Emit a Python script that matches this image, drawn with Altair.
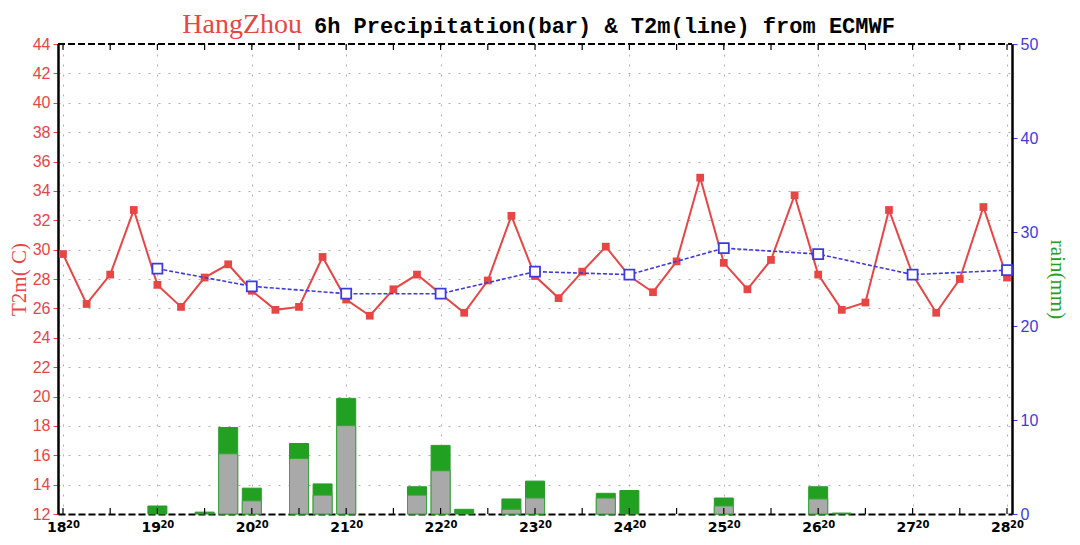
import altair as alt
import pandas as pd

# ---- data ----
hours6 = list(range(0, 241, 6))          # hours since 18th 20:00
t2m = [29.7, 26.3, 28.3, 32.7, 27.6, 26.1, 28.1, 29.0, 27.2, 25.9,
       26.1, 29.5, 26.6, 25.5, 27.3, 28.3, 27.0, 25.7, 27.9, 32.3,
       28.2, 26.7, 28.5, 30.2, 28.2, 27.1, 29.2, 34.9, 29.1, 27.3,
       29.3, 33.7, 28.3, 25.9, 26.4, 32.7, 28.3, 25.7, 28.0, 32.9,
       28.1]
day_hours = list(range(24, 241, 24))
t2m_daily = [28.7, 27.5, 27.0, 27.0, 28.5, 28.3, 30.1, 29.7, 28.3, 28.6]

rain_hours = [24, 36, 42, 48, 60, 66, 72, 90, 96, 102, 114, 120, 138, 144, 168, 192, 198]
rain_total = [0.85, 0.2, 9.2, 2.75, 7.5, 3.2, 12.3, 2.9, 7.3, 0.5, 1.6, 3.5, 2.2, 2.5, 1.7, 2.9, 0.1]
rain_grey = [0.0, 0.0, 6.4, 1.4, 5.9, 2.0, 9.4, 2.0, 4.6, 0.0, 0.5, 1.7, 1.7, 0.0, 0.85, 1.6, 0.0]

tick_hours = list(range(0, 241, 12))
day_ticks = list(range(0, 241, 24))
hour_sup = "20"                           # the hour shown as superscript after each day
temp_ticks = list(range(12, 45, 2))
rain_ticks = [0, 10, 20, 30, 40, 50]

title_city = "HangZhou"
title_rest = "6h Precipitation(bar) & T2m(line) from ECMWF"

# ---- styles ----
RED = "#e84545"
BLUE = "#3f3ae0"
GREEN = "#22a022"
GREY = "#a9a9a9"
GRIDC = "#b0b0b0"

temp_df = pd.DataFrame({"h": hours6, "t": t2m})
daily_df = pd.DataFrame({"h": day_hours, "t": t2m_daily})
rain_df = pd.DataFrame({"h": rain_hours, "total": rain_total, "grey": rain_grey})
ticks_df = pd.DataFrame({"h": tick_hours})
days_df = pd.DataFrame({"h": day_ticks, "s": [hour_sup] * len(day_ticks)})
one_df = pd.DataFrame({"a": [0]})

x_axis = alt.Axis(values=day_ticks,
                  labelExpr="toString(18 + datum.value/24)",
                  title=None, grid=True, gridDash=[2, 8], gridColor=GRIDC,
                  ticks=False, domainColor="black", domainDash=[7, 3],
                  domainWidth=2, labelFont="DejaVu Sans", labelFontWeight="bold",
                  labelFontSize=14, labelColor="black", labelPadding=6,
                  labelAlign="right", labelOffset=3, labelFlush=False)
x_enc = alt.X("h:Q", scale=alt.Scale(domain=[0, 240], nice=False, zero=False), axis=x_axis)

temp_axis = alt.Axis(orient="left", values=temp_ticks, title="T2m(  C)",
                     titleColor=RED, titleFont="Liberation Serif", titleFontSize=21,
                     titleFontWeight="normal", titlePadding=3,
                     labelColor=RED, labelFont="Liberation Sans", labelFontSize=16,
                     labelPadding=3, tickColor=RED, tickSize=5,
                     domainColor="black", domainWidth=2.5,
                     grid=True, gridDash=[2, 8], gridColor=GRIDC)
temp_scale = alt.Scale(domain=[12, 44], nice=False, zero=False)

rain_axis = alt.Axis(orient="right", values=rain_ticks, title="rain(mm)",
                     titleColor=GREEN, titleFont="Liberation Serif", titleFontSize=21,
                     titleFontWeight="normal", titlePadding=9,
                     labelColor=BLUE, labelFont="Liberation Sans", labelFontSize=16,
                     labelPadding=3, tickColor=BLUE, tickSize=5,
                     domainColor="black", domainWidth=2.5, grid=False)
rain_scale = alt.Scale(domain=[0, 50], nice=False, zero=True)

green_bars = alt.Chart(rain_df).mark_bar(size=19, color=GREEN, stroke="#2e9a2e", strokeWidth=1).encode(
    x=x_enc, y=alt.Y("total:Q", scale=rain_scale, axis=rain_axis))
grey_bars = alt.Chart(rain_df).transform_filter("datum.grey > 0").mark_bar(
    size=19, color=GREY, stroke="#3aa53a", strokeWidth=1).encode(
    x=x_enc, y=alt.Y("grey:Q", scale=rain_scale, axis=rain_axis))
bars = alt.layer(green_bars, grey_bars)

red_line = alt.Chart(temp_df).mark_line(color=RED, strokeWidth=2).encode(
    x=x_enc, y=alt.Y("t:Q", scale=temp_scale, axis=temp_axis))
red_pts = alt.Chart(temp_df).mark_point(shape="square", filled=True, color=RED, size=60, opacity=1).encode(
    x=x_enc, y=alt.Y("t:Q", scale=temp_scale, axis=temp_axis))
blue_line = alt.Chart(daily_df).mark_line(color=BLUE, strokeWidth=1.6, strokeDash=[4, 2]).encode(
    x=x_enc, y=alt.Y("t:Q", scale=temp_scale, axis=temp_axis))
blue_pts = alt.Chart(daily_df).mark_point(shape="square", filled=True, fill="white", stroke=BLUE,
                                          strokeWidth=1.8, size=100, opacity=1).encode(
    x=x_enc, y=alt.Y("t:Q", scale=temp_scale, axis=temp_axis))
temps = alt.layer(red_line, red_pts, blue_line, blue_pts)

top_ticks = alt.Chart(ticks_df).mark_rule(color="black", strokeWidth=1.2).encode(
    x=x_enc, y=alt.value(0), y2=alt.value(6))
bottom_ticks = alt.Chart(ticks_df).mark_rule(color="black", strokeWidth=1.2).encode(
    x=x_enc, y=alt.YValue(alt.ExprRef("height")), y2=alt.YValue(alt.ExprRef("height - 6")))
top_border = alt.Chart(one_df).mark_rule(color="black", strokeWidth=2, strokeDash=[7, 3]).encode(
    x=alt.value(0), x2=alt.XValue(alt.ExprRef("width")), y=alt.value(0))

sup_text = alt.Chart(days_df).mark_text(font="DejaVu Sans", fontSize=10, fontWeight="bold",
                                        color="black", align="left", baseline="top", dx=3).encode(
    x=x_enc, y=alt.YValue(alt.ExprRef("height + 6")), text="s:N")

city_text = alt.Chart(one_df).mark_text(text=title_city, font="Liberation Serif", fontSize=28,
                                        color=RED, align="right", baseline="alphabetic").encode(
    x=alt.value(244), y=alt.value(-11))
rest_text = alt.Chart(one_df).mark_text(text=title_rest, font="Liberation Mono", fontSize=22,
                                        fontWeight="bold", color="black", align="left",
                                        baseline="alphabetic").encode(
    x=alt.value(256), y=alt.value(-11))

chart = alt.layer(bars, temps, top_ticks, bottom_ticks, top_border, sup_text,
                  city_text, rest_text).resolve_scale(
    y="independent"
).properties(width=1063, height=526,
             padding={"left": 0, "top": 3, "right": 3, "bottom": 0}, background="white",
             autosize=alt.AutoSizeParams(type="fit", contains="padding")).configure_view(stroke=None)

chart.save("out.html", embed_options={"renderer": "svg", "actions": False})
